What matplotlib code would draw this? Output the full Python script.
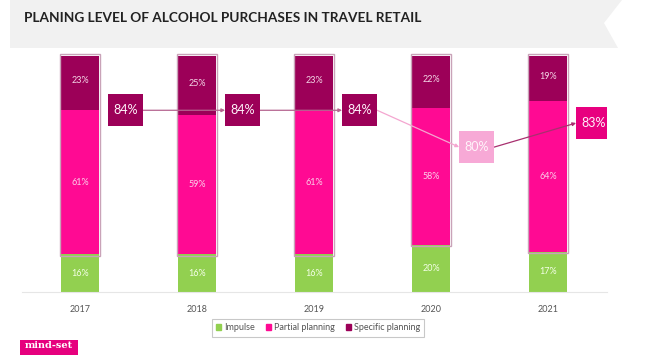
import matplotlib.pyplot as plt
from matplotlib.patches import Rectangle, Polygon, Patch

years = ['2017', '2018', '2019', '2020', '2021']
impulse = [16, 16, 16, 20, 17]
partial = [61, 59, 61, 58, 64]
specific = [23, 25, 23, 22, 19]
planned_total = [84, 84, 84, 80, 83]

GREEN = '#92d050'
MAGENTA = '#ff0a93'
PURPLE = '#9c0058'
box_colors = [PURPLE, PURPLE, PURPLE, '#f7a9d6', '#e8007f']
line_colors = ['#b5648f', '#b5648f', '#f4a6d0', '#a8306f']

W, H = 650, 355
fig = plt.figure(figsize=(W / 100, H / 100), dpi=100)
plt.rcParams['font.family'] = ['Lato', 'DejaVu Sans']


def px(x, y):
    """pixels (origine en haut a gauche) -> coordonnees figure"""
    return x / W, 1 - y / H


# bandeau gris du titre
banner = [px(10, 0), px(622, 0), px(604, 23), px(618, 48), px(10, 48)]
fig.patches.append(Polygon(banner, closed=True, transform=fig.transFigure,
                           facecolor='#f1f1f1', edgecolor='none', zorder=0))
fig.text(*px(24, 18), 'PLANING LEVEL OF ALCOHOL PURCHASES IN TRAVEL RETAIL',
         fontsize=9.8, fontweight='bold', color='#222222', va='center', ha='left')

# zone du graphique
left, right = px(21.5, 0)[0], px(606.5, 0)[0]
bottom, top = px(0, 292)[1], px(0, 56)[1]
ax = fig.add_axes([left, bottom, right - left, top - bottom])

x = list(range(len(years)))
bw = 0.325
ax.bar(x, impulse, bw, color=GREEN, zorder=2)
ax.bar(x, partial, bw, bottom=impulse, color=MAGENTA, zorder=2)
base2 = [a + b for a, b in zip(impulse, partial)]
ax.bar(x, specific, bw, bottom=base2, color=PURPLE, zorder=2)

for i in x:
    # cadre autour de la partie "planning"
    ax.add_patch(Rectangle((i - 0.175, impulse[i] - 0.6), 0.35, 100 - impulse[i] + 1.3,
                           facecolor='none', edgecolor='#c9a3b8', lw=1.0, zorder=3,
                           clip_on=False))
    ax.text(i, impulse[i] / 2, f'{impulse[i]}%', ha='center', va='center',
            fontsize=6.5, color='#f4ffe8', zorder=4)
    ax.text(i, impulse[i] + partial[i] / 2, f'{partial[i]}%', ha='center', va='center',
            fontsize=6.5, color='#fbd0ea', zorder=4)
    ax.text(i, base2[i] + specific[i] / 2 + 1, f'{specific[i]}%', ha='center', va='center',
            fontsize=6.5, color='#f3d6e6', zorder=4)

# encadres du total planifie
off, bx_w, bx_h = 0.39, 0.30, 13.6
ys = [77 + (v - 84) * 3.9 - (1.5 if v == 83 else 0) for v in planned_total]
for i in x:
    if i < len(x) - 1:
        ax.annotate('', xy=(i + 1 + off - bx_w / 2, ys[i + 1]),
                    xytext=(i + off + bx_w / 2, ys[i]),
                    arrowprops=dict(arrowstyle='-|>', color=line_colors[i], lw=0.9,
                                    mutation_scale=5, shrinkA=0, shrinkB=0),
                    zorder=3)
    ax.add_patch(Rectangle((i + off - bx_w / 2, ys[i] - bx_h / 2), bx_w, bx_h,
                           facecolor=box_colors[i], edgecolor='none', zorder=5))
    ax.text(i + off, ys[i], f'{planned_total[i]}%', ha='center', va='center',
            fontsize=9, color='#fff4fa', zorder=6)

ax.set_xlim(-0.5, 4.5)
ax.set_ylim(0, 100)
ax.set_xticks(x)
ax.set_xticklabels(years, fontsize=6.5, color='#555555')
ax.tick_params(axis='x', length=0, pad=9)
ax.set_yticks([])
for s in ['top', 'right', 'left']:
    ax.spines[s].set_visible(False)
ax.spines['bottom'].set_color('#e6e6e6')
ax.patch.set_alpha(0)

handles = [Patch(color=GREEN, label='Impulse'),
           Patch(color=MAGENTA, label='Partial planning'),
           Patch(color=PURPLE, label='Specific planning')]
leg = fig.legend(handles=handles, loc='center', bbox_to_anchor=px(318, 328), ncol=3,
                 fontsize=6.5, frameon=True, fancybox=False, handlelength=0.6,
                 handleheight=0.6, handletextpad=0.3, columnspacing=1.2,
                 borderpad=0.5)
leg.get_frame().set_edgecolor('#bbbbbb')
leg.get_frame().set_linewidth(0.8)
for t in leg.get_texts():
    t.set_color('#555555')

# logo
fig.patches.append(Rectangle(px(20, 355), 58 / W, 15 / H, transform=fig.transFigure,
                             facecolor='#e6007e', edgecolor='none'))
fig.text(*px(49, 346), 'mind-set', fontsize=7, fontweight='bold', color='white',
         family='DejaVu Serif', ha='center', va='center')

fig.savefig('out.png', dpi=100)
